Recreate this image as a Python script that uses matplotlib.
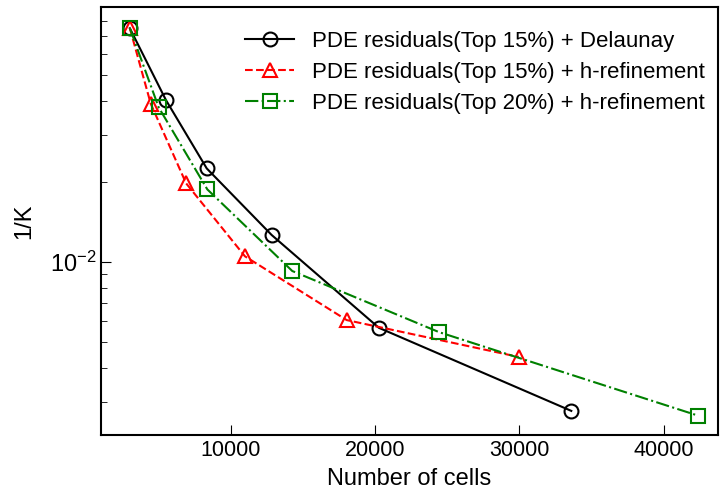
import matplotlib.pyplot as plt

plt.rcParams['font.family'] = ['Liberation Sans', 'DejaVu Sans']
plt.rcParams['mathtext.fontset'] = 'custom'
plt.rcParams['mathtext.rm'] = 'Liberation Sans'

# number of cells vs 1/K
cells_delaunay = [3000, 5500, 8330, 12830, 20260, 33600]
invk_delaunay = [0.075, 0.0404, 0.0224, 0.01262, 0.00567, 0.00277]

cells_h15 = [3000, 4450, 6900, 10980, 18030, 29960]
invk_h15 = [0.075, 0.0391, 0.0197, 0.0105, 0.00606, 0.00441]

cells_h20 = [3000, 5000, 8370, 14260, 24440, 42380]
invk_h20 = [0.075, 0.0379, 0.0187, 0.00925, 0.00546, 0.00266]

fig = plt.figure(figsize=(7.2, 4.99), dpi=100)
ax = fig.add_axes([101 / 720, 1 - 435 / 499, 617 / 720, 428 / 499])

ax.plot(cells_delaunay, invk_delaunay, 'k-o', mfc='none', ms=10, mew=1.5, lw=1.5,
        label="PDE residuals(Top 15%) + Delaunay")
ax.plot(cells_h15, invk_h15, 'r--^', mfc='none', ms=10, mew=1.5, lw=1.5,
        label="PDE residuals(Top 15%) + h-refinement")
ax.plot(cells_h20, invk_h20, 'g-.s', mfc='none', ms=10, mew=1.5, lw=1.5,
        label="PDE residuals(Top 20%) + h-refinement")

ax.set_yscale('log')
ax.set_xlim(1000, 43770)
ax.set_ylim(2.25e-3, 0.0901)
ax.set_xticks([10000, 20000, 30000, 40000])
ax.tick_params(which='both', direction='in')
ax.tick_params(axis='x', labelsize=15.5)
ax.tick_params(axis='y', labelsize=17)
ax.tick_params(which='major', length=7)
ax.tick_params(which='minor', length=4)
for s in ax.spines.values():
    s.set_linewidth(1.5)

ax.set_xlabel("Number of cells", fontsize=17, labelpad=5)
ax.set_ylabel("1/K", fontsize=17, labelpad=10)
ax.legend(loc='upper right', bbox_to_anchor=(1.0, 0.975), frameon=False, fontsize=16,
          handlelength=2.2, handletextpad=0.8, labelspacing=0.45, borderaxespad=0.2)

fig.savefig("out.png", dpi=100)
